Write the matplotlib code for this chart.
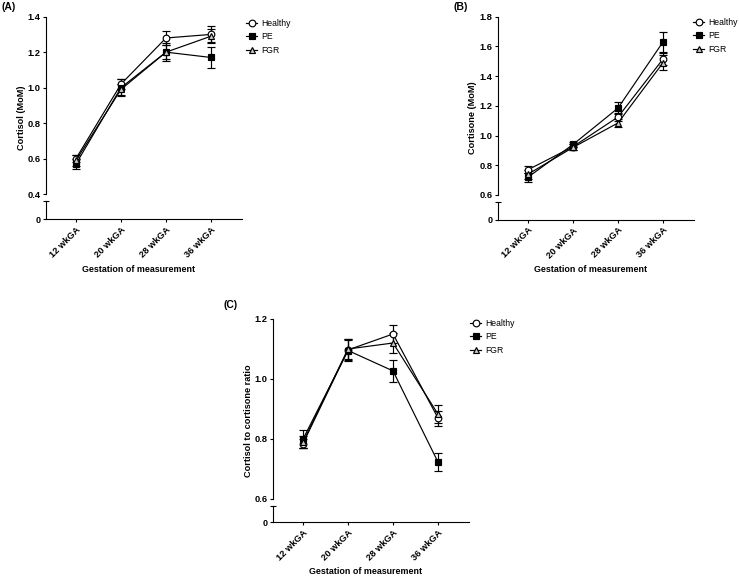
import matplotlib
matplotlib.use("Agg")
import matplotlib.pyplot as plt
from matplotlib.lines import Line2D

plt.rcParams['font.family'] = ['Liberation Sans', 'DejaVu Sans']

W, H = 739, 580

weeks = ['12 wkGA', '20 wkGA', '28 wkGA', '36 wkGA']
groups = ['Healthy', 'PE', 'FGR']

# (A) cortisol MoM
cortisol_healthy = [0.60, 1.02, 1.28, 1.30]
cortisol_healthy_err = [0.02, 0.03, 0.04, 0.045]
cortisol_pe = [0.57, 1.00, 1.20, 1.17]
cortisol_pe_err = [0.03, 0.05, 0.05, 0.06]
cortisol_fgr = [0.59, 0.99, 1.20, 1.29]
cortisol_fgr_err = [0.03, 0.03, 0.04, 0.04]

# (B) cortisone MoM
cortisone_healthy = [0.77, 0.925, 1.125, 1.515]
cortisone_healthy_err = [0.025, 0.02, 0.03, 0.04]
cortisone_pe = [0.72, 0.94, 1.185, 1.63]
cortisone_pe_err = [0.03, 0.02, 0.04, 0.065]
cortisone_fgr = [0.74, 0.92, 1.085, 1.49]
cortisone_fgr_err = [0.03, 0.02, 0.025, 0.05]

# (C) cortisol to cortisone ratio
ratio_healthy = [0.785, 1.097, 1.15, 0.87]
ratio_healthy_err = [0.015, 0.035, 0.03, 0.025]
ratio_pe = [0.80, 1.095, 1.027, 0.723]
ratio_pe_err = [0.03, 0.035, 0.036, 0.03]
ratio_fgr = [0.79, 1.10, 1.12, 0.883]
ratio_fgr_err = [0.02, 0.035, 0.035, 0.03]

styles = {
    'Healthy': dict(marker='o', mfc='white'),
    'PE': dict(marker='s', mfc='black'),
    'FGR': dict(marker='^', mfc='#c8c8c8'),
}


def px_rect(l, t, r, b):
    return [l / W, 1 - b / H, (r - l) / W, (b - t) / H]


def draw_panel(fig, l, t, brk, r, b, ylo, yhi, yticks, series, ylabel, tag, leg_xy):
    top = fig.add_axes(px_rect(l, t, r, brk))
    low = fig.add_axes(px_rect(l, brk + 6.5, r, b))
    x = list(range(len(weeks)))
    for name, (vals, errs) in zip(groups, series):
        st = styles[name]
        top.errorbar(x, vals, yerr=errs, color='black', lw=0.85, elinewidth=0.85,
                     capsize=2.6, capthick=0.85, marker=st['marker'], ms=4.8,
                     mfc=st['mfc'], mec='black', mew=0.85, clip_on=False, zorder=3)
    for ax in (top, low):
        ax.set_xlim(-0.667, 3.689)
        ax.spines['top'].set_visible(False)
        ax.spines['right'].set_visible(False)
        ax.spines['left'].set_linewidth(0.8)
        ax.spines['bottom'].set_linewidth(0.8)
        ax.patch.set_alpha(0)
    top.spines['bottom'].set_visible(False)
    top.set_xticks([])
    top.set_ylim(ylo, yhi)
    top.set_yticks(yticks)
    top.set_yticklabels(['%.1f' % v for v in yticks], fontweight='bold', fontsize=6.7)
    top.tick_params(axis='y', length=2.5, width=0.8, pad=1.5)

    low.set_ylim(0, 1)
    low.set_yticks([0])
    low.set_yticklabels(['0'], fontweight='bold', fontsize=6.5)
    low.set_yticks([1], minor=True)
    low.tick_params(axis='y', which='major', length=2.5, width=0.8, pad=1.5)
    low.tick_params(axis='y', which='minor', length=4, width=0.8, direction='inout')
    low.set_xticks(x)
    low.set_xticklabels(weeks, rotation=45, ha='right', rotation_mode='anchor',
                        fontweight='bold', fontsize=6.7)
    low.tick_params(axis='x', length=2.5, width=0.8, pad=2)

    fig.text((l - 25) / W, 1 - (t + b) / 2 / H, ylabel, rotation=90, ha='center',
             va='center', fontweight='bold', fontsize=6.6)
    fig.text((l + 93) / W, 1 - (b + 50) / H, 'Gestation of measurement', ha='center',
             va='center', fontweight='bold', fontsize=6.4)
    fig.text(tag[0] / W, 1 - tag[1] / H, tag[2], ha='left', va='center',
             fontweight='bold', fontsize=7.5)

    handles = [Line2D([], [], color='black', lw=0.85, marker=styles[g]['marker'], ms=4.8,
                      mfc=styles[g]['mfc'], mec='black', mew=0.85) for g in groups]
    fig.legend(handles, groups, loc='upper left',
               bbox_to_anchor=(leg_xy[0] / W, 1 - leg_xy[1] / H), frameon=False,
               fontsize=6.2, handlelength=1.3, handletextpad=0.5, labelspacing=0.5,
               borderaxespad=0, borderpad=0)


fig = plt.figure(figsize=(W / 100, H / 100), dpi=100)

draw_panel(fig, 46, 16.7, 194, 242, 219.3, 0.4, 1.4,
           [0.4, 0.6, 0.8, 1.0, 1.2, 1.4],
           [(cortisol_healthy, cortisol_healthy_err), (cortisol_pe, cortisol_pe_err),
            (cortisol_fgr, cortisol_fgr_err)],
           'Cortisol (MoM)', (1, 7.5, '(A)'), (246, 19))

draw_panel(fig, 498, 16.7, 195, 694, 219.5, 0.6, 1.8,
           [0.6, 0.8, 1.0, 1.2, 1.4, 1.6, 1.8],
           [(cortisone_healthy, cortisone_healthy_err), (cortisone_pe, cortisone_pe_err),
            (cortisone_fgr, cortisone_fgr_err)],
           'Cortisone (MoM)', (453, 7, '(B)'), (693, 18))

draw_panel(fig, 273, 319, 499, 469, 522, 0.6, 1.2,
           [0.6, 0.8, 1.0, 1.2],
           [(ratio_healthy, ratio_healthy_err), (ratio_pe, ratio_pe_err),
            (ratio_fgr, ratio_fgr_err)],
           'Cortisol to cortisone ratio', (224, 305, '(C)'), (470, 319))

fig.savefig('out.png', dpi=100)
